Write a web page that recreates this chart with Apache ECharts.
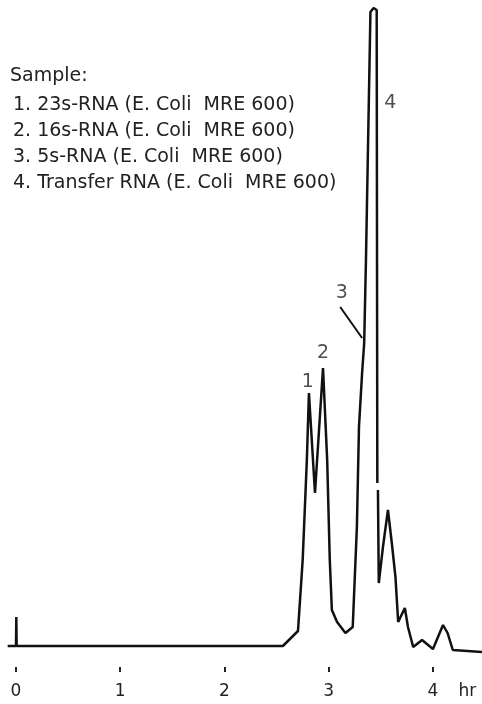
<!DOCTYPE html>
<html>
<head>
<meta charset="utf-8">
<script src="https://cdn.jsdelivr.net/npm/echarts@6/dist/echarts.min.js"></script>
<style>
html,body{margin:0;padding:0;background:#fff;}
#c{width:482px;height:704px;}
</style>
</head>
<body>
<div id="c"></div>
<script>
// elution time (hr) and detector signal (arbitrary units)
var times  = [-0.08, 0, 0.003, 0.006, 2.56, 2.705, 2.75, 2.79, 2.81, 2.868, 2.945, 2.985, 3.01, 3.03, 3.08, 3.16, 3.23, 3.27, 3.29, 3.32, 3.34, 3.357, 3.40, 3.43, 3.46, 3.466, 3.469, 3.472, 3.48, 3.52, 3.568, 3.605, 3.64, 3.666, 3.73, 3.76, 3.81, 3.895, 4.0, 4.096, 4.14, 4.19, 4.47];
var signal = [0, 0, 29, 0, 0, 15, 86, 186, 253, 153, 278, 186, 86, 36, 24, 13, 19, 119, 219, 273, 303, 386, 634, 638, 636, 163, null, 156, 63, 99, 136, 103, 69, 24, 38, 19, -1, 6, -3, 21, 13, -4, -6];
var tickValues = [0, 1, 2, 3, 4];
var tickLabels = ['0', '1', '2', '3', '4'];
var unitLabel = 'hr';
var unitPos = 4.33;
var peakLabels = ['1', '2', '3', '4'];
var peakLabelT = [2.80, 2.945, 3.125, 3.59];
var peakLabelV = [264, 293, 353, 543];
var leaderT = [3.11, 3.32];
var leaderV = [339, 308];
var sampleTitle = 'Sample:';
var sampleLines = [
  '1. 23s-RNA (E. Coli  MRE 600)',
  '2. 16s-RNA (E. Coli  MRE 600)',
  '3. 5s-RNA (E. Coli  MRE 600)',
  '4. Transfer RNA (E. Coli  MRE 600)'
];

var lineData = times.map(function (t, i) {
  return [t, signal[i] === null ? '-' : signal[i]];
});
var labelData = peakLabels.map(function (s, i) {
  return [peakLabelT[i], peakLabelV[i], s];
});
var leaderData = leaderT.map(function (t, i) { return [t, leaderV[i]]; });
var labelValues = tickValues.concat([unitPos]);

var FONT = 'DejaVu Sans';
var TXT = '#222';
var X_MIN = -0.08, X_MAX = 4.45;
var chart = echarts.init(document.getElementById('c'), null, {renderer: 'canvas'});
chart.setOption({
  animation: false,
  backgroundColor: '#fff',
  title: [
    {text: sampleTitle, left: 10, top: 63, padding: 0,
     textStyle: {fontFamily: FONT, fontSize: 19, fontWeight: 'normal', color: TXT, lineHeight: 26}},
    {text: sampleLines.join('\n'), left: 13, top: 92, padding: 0,
     textStyle: {fontFamily: FONT, fontSize: 19, fontWeight: 'normal', color: TXT, lineHeight: 26}}
  ],
  grid: [
    {left: 7.66, right: 2.1, top: 8, bottom: 48},
    {left: 7.66, right: 2.1, bottom: 37, height: 2}
  ],
  xAxis: [
    {
      gridIndex: 0, type: 'value', min: X_MIN, max: X_MAX,
      show: false, splitLine: {show: false}
    },
    {
      gridIndex: 1, type: 'value', min: X_MIN, max: X_MAX,
      splitLine: {show: false},
      axisLine: {show: false},
      axisTick: {show: true, length: 5, customValues: tickValues, lineStyle: {color: TXT, width: 2}},
      axisLabel: {
        customValues: labelValues, margin: 16, fontFamily: FONT, fontSize: 17, color: TXT,
        formatter: function (v) {
          var i = tickValues.indexOf(v);
          return i >= 0 ? tickLabels[i] : unitLabel;
        }
      }
    }
  ],
  yAxis: [
    {gridIndex: 0, type: 'value', min: -10, max: 638, show: false, splitLine: {show: false}},
    {gridIndex: 1, type: 'value', min: 0, max: 1, show: false, splitLine: {show: false}}
  ],
  series: [
    {
      type: 'line', data: lineData, showSymbol: false, connectNulls: false,
      lineStyle: {color: '#111', width: 2.5}, clip: false
    },
    {
      type: 'line', data: leaderData, showSymbol: false,
      lineStyle: {color: '#111', width: 2}
    },
    {
      type: 'scatter', data: labelData, symbolSize: 0,
      label: {show: true, position: 'inside', formatter: function (p) { return p.data[2]; },
              fontFamily: FONT, fontSize: 19, color: TXT}
    }
  ]
});
</script>
</body>
</html>
